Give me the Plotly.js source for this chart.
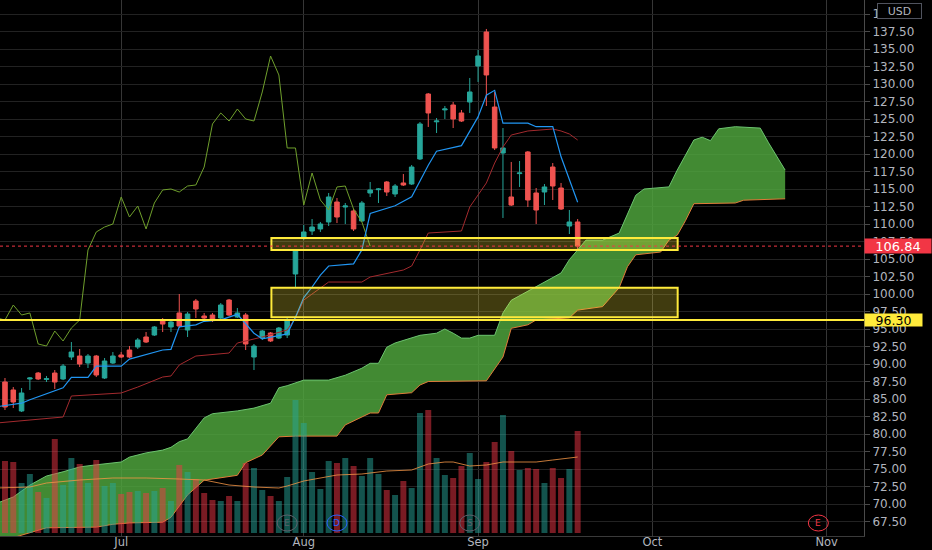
<!DOCTYPE html>
<html>
<head>
<meta charset="utf-8">
<script src="https://cdn.plot.ly/plotly-3.0.1.min.js"></script>
<style>
  html, body { margin: 0; padding: 0; background: #000; }
  #chart { width: 932px; height: 550px; }
</style>
</head>
<body>
<div id="chart"></div>
<script>
// ---- Candles (bar index 0..69, daily) ----
const barIdx = [0,1,2,3,4,5,6,7,8,9,10,11,12,13,14,15,16,17,18,19,20,21,22,23,24,25,26,27,28,29,30,31,32,33,34,35,36,37,38,39,40,41,42,43,44,45,46,47,48,49,50,51,52,53,54,55,56,57,58,59,60,61,62,63,64,65,66,67,68,69];
const openP = [87.43,86.29,83.29,87.86,88.71,87.80,88.71,87.86,91.00,91.14,
  90.14,91.14,88.00,90.14,91.29,92.00,92.43,93.86,94.14,96.29,
  95.29,97.29,94.86,99.00,96.86,97.00,96.57,99.14,96.71,97.00,
  91.00,93.71,94.43,93.71,94.14,102.86,108.14,109.00,109.29,110.29,
  113.14,112.43,111.86,110.43,114.43,114.90,116.00,114.29,115.86,115.71,
  119.29,128.57,124.60,126.30,127.00,125.86,127.43,132.57,137.43,126.71,
  120.14,113.86,117.20,120.29,114.43,114.57,118.14,115.14,109.71,110.29];
const highP = [88.00,86.71,86.57,88.14,88.86,88.29,89.14,90.00,93.14,92.14,
  91.43,91.29,90.86,91.71,91.71,92.57,93.71,94.57,95.43,96.57,
  96.29,100.00,97.43,99.29,97.29,97.29,98.71,99.29,98.00,97.29,
  92.86,94.86,94.57,95.29,96.57,106.43,109.86,110.71,110.29,114.43,
  113.71,113.00,112.14,113.29,116.00,115.14,116.14,115.71,117.14,118.43,
  124.57,128.71,125.14,126.86,127.43,126.29,130.86,134.86,137.86,128.86,
  123.71,118.86,119.00,120.43,115.14,115.71,118.71,115.86,112.00,110.71];
const lowP = [83.43,83.71,83.14,86.29,87.71,87.43,86.43,87.70,90.57,89.57,
  89.43,88.14,87.86,90.00,90.86,90.86,92.14,93.00,94.00,94.57,
  94.57,95.14,93.86,96.57,96.14,96.00,96.29,96.86,96.57,92.00,
  89.14,93.43,93.14,93.57,93.71,101.00,107.71,108.43,108.86,109.71,
  110.14,110.00,109.00,110.29,113.86,113.00,114.00,113.86,115.43,115.57,
  119.14,123.86,123.00,125.00,123.71,124.57,125.86,130.29,126.86,120.57,
  110.86,112.57,115.29,112.43,110.00,112.71,113.43,112.00,108.57,106.29];
const closeP = [83.86,84.57,85.86,88.00,87.86,87.90,87.43,89.71,91.71,90.00,
  91.14,88.43,90.43,91.14,91.00,91.00,93.43,93.14,95.29,95.71,
  96.00,95.43,97.14,97.86,96.57,96.29,98.43,97.00,97.29,92.86,
  92.57,94.71,93.29,95.14,96.29,106.29,108.86,109.57,110.00,113.86,
  111.00,112.57,109.29,113.00,114.86,115.00,114.57,115.43,115.57,118.14,
  124.29,125.86,124.71,126.43,125.00,124.71,128.86,134.00,131.29,120.86,
  120.86,112.71,117.29,113.43,112.00,115.29,115.43,112.14,110.29,106.84];
const volume = [7.2,7.1,5.0,5.9,4.1,3.5,9.4,4.8,7.5,6.9,
  5.0,7.3,4.7,5.0,3.9,4.1,4.2,4.0,4.2,4.5,
  3.2,6.8,6.1,5.4,4.0,3.3,3.2,3.7,3.2,7.0,
  6.5,4.3,3.7,3.2,5.6,13.3,11.0,6.1,4.4,7.2,
  7.0,7.5,6.7,5.7,7.5,5.9,4.3,3.8,5.2,4.5,
  12.0,12.3,7.5,5.8,5.5,6.7,8.0,5.4,7.1,9.1,
  11.8,8.2,6.3,6.5,6.4,5.0,6.5,5.5,6.4,10.2];

// ---- Volume moving average ----
const volMaX = [-1,3,5,9,13,17,21,24,27,30,33,34,36,38,40,43,46,49,51,53,54,56,58,60,64,66,69];
const volMaY = [4.5,4.6,5.0,5.3,5.5,5.5,5.4,5.3,4.8,4.6,4.5,4.7,5.2,5.5,5.8,5.9,6.2,6.3,6.9,7.1,7.1,6.7,6.8,7.1,7.1,7.3,7.6];

// ---- Ichimoku lines ----
const tenkanX = [-1,2,3,7,8,10,11,14,15,19,20,21,23,24,26,28,30,31,34,35,36,37,38,39,42,43,44,47,49,51,52,55,57,58,59,60,63,64,66,67,69];
const tenkanY = [83.9,84.4,84.9,86.6,88.1,88.1,89.7,89.7,90.7,92.0,92.1,95.3,95.6,96.1,96.3,97.1,94.4,93.6,94.3,96.7,99.5,101.0,102.7,104.0,104.3,106.3,111.5,112.6,113.9,118.4,120.4,121.2,125.3,128.4,129.1,124.4,124.4,123.9,123.9,119.6,113.1];
const kijunX = [-1,7,8,14,16,19,20,21,23,27,28,31,34,35,36,38,39,43,44,48,49,50,51,55,56,58,59,60,61,63,66,67,68,69];
const kijunY = [81.57,82.43,85.43,85.86,86.71,88.14,88.29,89.86,91.14,91.57,93.0,93.86,94.86,96.57,99.14,100.86,101.71,101.71,102.43,103.43,104.0,106.29,108.71,109.0,112.43,115.86,118.71,121.0,122.71,123.29,123.57,123.29,122.86,122.0];
const spanAX = [-1,1,3,5,7,9,11,14,15,17,19,20,21,22,24,25,28,30,32,33,34,36,39,41,43,44,45,46,47,49,50,52,53,54,55,56,57,59,60,61,67,68,70,72,74,76,77,80,81,83,84,85,86,88,91,92,94];
const spanAY = [70.1,71.0,72.7,74.0,74.6,75.3,75.6,76.0,76.7,77.3,77.7,78.1,78.9,79.3,82.3,82.9,83.3,83.7,84.4,86.6,86.9,87.7,87.7,88.4,89.4,90.1,90.1,92.4,93.0,93.7,94.1,94.4,95.0,94.4,93.7,93.7,94.1,94.1,97.3,99.1,103.0,104.9,107.7,107.7,108.7,114.1,115.0,115.3,117.7,122.0,122.4,121.9,123.6,123.9,123.7,121.6,117.7];
const spanBX = [-1,3,5,11,13,15,19,20,22,24,28,29,31,33,35,40,41,44,45,46,49,50,51,58,60,61,63,64,68,69,72,74,75,76,79,80,81,82,83,88,89,94];
const spanBY = [64.5,65.9,66.6,66.7,67.1,67.3,67.4,68.1,71.3,73.4,74.1,75.9,77.0,79.6,79.7,79.7,81.3,83.0,83.0,85.6,85.9,87.0,87.5,87.6,91.0,95.1,95.6,96.3,96.6,97.7,98.2,100.9,103.9,105.6,106.0,107.7,108.4,110.5,112.9,113.0,113.4,113.6];
const chikouShift = 25;

// ---- Axis labels ----
const monthIdx = [14, 36, 57, 78, 99];
const monthLabels = ['Jul', 'Aug', 'Sep', 'Oct', 'Nov'];
const priceTicks = [67.5,70,72.5,75,77.5,80,82.5,85,87.5,90,92.5,95,97.5,100,102.5,105,107.5,110,112.5,115,117.5,120,122.5,125,127.5,130,132.5,135,137.5,140];

// ---- Drawings ----
const zoneStart = [32.1, 32.1];
const zoneEnd = [81.05, 81.05];
const zoneLow = [106.3, 96.67];
const zoneHigh = [108.0, 100.9];
const levelPrice = [96.30];
const lastPrice = 106.84;
const eventIdx = [34, 40, 56, 98];
const eventLetters = ['E', 'D', 'S', 'E'];
const eventColors = ['#5d606b', '#2962FF', '#5d606b', '#F23645'];

const UP = '#26a69a', DN = '#ef5350';

const chikouX = [], chikouY = [];
for (let i = chikouShift - 1; i < closeP.length; i++) { chikouX.push(i - chikouShift); chikouY.push(closeP[i]); }
const volColors = barIdx.map(i => closeP[i] >= openP[i] ? 'rgba(38,166,154,0.5)' : 'rgba(242,54,69,0.5)');

const traces = [
  { x: spanBX, y: spanBY, type: 'scatter', mode: 'lines', line: { color: '#e07b39', width: 1 }, hoverinfo: 'skip' },
  { x: spanAX, y: spanAY, type: 'scatter', mode: 'lines', line: { color: '#6cc46f', width: 1 }, fill: 'tonexty', fillcolor: 'rgba(80,168,62,0.82)', hoverinfo: 'skip' },
  { x: chikouX, y: chikouY, type: 'scatter', mode: 'lines', line: { color: '#6f9f2c', width: 1 } },
  { x: kijunX, y: kijunY, type: 'scatter', mode: 'lines', line: { color: '#a32a2e', width: 1 } },
  { x: tenkanX, y: tenkanY, type: 'scatter', mode: 'lines', line: { color: '#2196F3', width: 1.2 } },
  { x: barIdx, open: openP, high: highP, low: lowP, close: closeP, type: 'candlestick',
    increasing: { line: { color: UP, width: 1 }, fillcolor: UP },
    decreasing: { line: { color: DN, width: 1 }, fillcolor: DN }, whiskerwidth: 0 },
  { x: barIdx, y: volume, type: 'bar', yaxis: 'y2', marker: { color: volColors, line: { width: 0 } }, width: 0.72 },
  { x: volMaX, y: volMaY, type: 'scatter', mode: 'lines', yaxis: 'y2', line: { color: 'rgba(245,150,70,0.8)', width: 1 } }
];

const shapes = [];
for (let k = 0; k < zoneLow.length; k++) {
  shapes.push({ type: 'rect', xref: 'x', yref: 'y', x0: zoneStart[k], x1: zoneEnd[k], y0: zoneLow[k], y1: zoneHigh[k],
    fillcolor: 'rgba(255,235,59,0.25)', line: { color: '#FFEB3B', width: 2 }, layer: 'above' });
}
levelPrice.forEach(p => shapes.push({ type: 'line', xref: 'paper', yref: 'y', x0: 0, x1: 1, y0: p, y1: p, line: { color: '#FFEB3B', width: 2 }, layer: 'above' }));
shapes.push({ type: 'line', xref: 'paper', yref: 'y', x0: 0, x1: 1, y0: lastPrice, y1: lastPrice, line: { color: '#F23645', width: 1, dash: 'dot' }, layer: 'above' });
eventIdx.forEach((e, k) => shapes.push({ type: 'circle', xref: 'x', yref: 'paper', xsizemode: 'pixel', ysizemode: 'pixel',
  xanchor: e, yanchor: 0, x0: -10, x1: 10, y0: 5, y1: 21, line: { color: eventColors[k], width: 1 }, fillcolor: 'rgba(0,0,0,0)', layer: 'above' }));

const annotations = [
  { xref: 'paper', x: 1, xanchor: 'left', yref: 'y', y: lastPrice, yanchor: 'middle', text: lastPrice.toFixed(2), showarrow: false,
    bgcolor: '#F23645', font: { color: '#ffffff', size: 13 }, width: 66, height: 14, borderpad: 0, align: 'center' },
  { xref: 'paper', x: 1, xanchor: 'left', yref: 'y', y: levelPrice[0], yanchor: 'middle', text: levelPrice[0].toFixed(2), showarrow: false,
    bgcolor: '#FFEB3B', font: { color: '#000000', size: 12.5 }, width: 57, height: 12, borderpad: 0, align: 'center' },
  { xref: 'paper', x: 1, xanchor: 'left', xshift: 13, yref: 'paper', y: 1, yanchor: 'top', yshift: -3, text: 'USD', showarrow: false,
    bgcolor: '#000000', bordercolor: '#50535e', borderwidth: 1, borderpad: 1, font: { color: '#b2b5be', size: 11 }, width: 41, height: 12 }
];
eventIdx.forEach((e, k) => annotations.push({ xref: 'x', x: e, yref: 'paper', y: 0, yanchor: 'middle', yshift: 13, text: eventLetters[k],
  showarrow: false, font: { color: eventColors[k], size: 9 } }));

const layout = {
  width: 932, height: 550,
  margin: { l: 0, r: 68, t: 0, b: 14, pad: 0 },
  paper_bgcolor: '#000000', plot_bgcolor: '#000000',
  font: { family: 'DejaVu Sans, sans-serif', color: '#b2b5be', size: 12 },
  showlegend: false,
  hovermode: false,
  xaxis: { range: [-0.6, 103.5], tickvals: monthIdx, ticktext: monthLabels, showgrid: true, gridcolor: '#363636', gridwidth: 1,
    zeroline: false, showline: true, linecolor: '#3a3a3a', ticks: '', ticklabelstandoff: -5, rangeslider: { visible: false },
    tickfont: { size: 11.5, color: '#b2b5be' }, fixedrange: true },
  yaxis: { side: 'right', range: [65.43, 142], tickvals: priceTicks, ticktext: priceTicks.map(v => v.toFixed(2)), showgrid: true, gridcolor: '#222222',
    zeroline: false, showline: true, linecolor: '#4a4a4a', ticks: 'outside', ticklen: 5, tickcolor: '#4a4a4a', tickfont: { size: 12, color: '#b2b5be' } },
  yaxis2: { overlaying: 'y', range: [-0.3, 53.3], visible: false, showgrid: false, zeroline: false },
  boxgap: 0.22,
  bargap: 0.28,
  shapes: shapes,
  annotations: annotations
};

Plotly.newPlot('chart', traces, layout, { staticPlot: true, displayModeBar: false });
</script>
</body>
</html>
